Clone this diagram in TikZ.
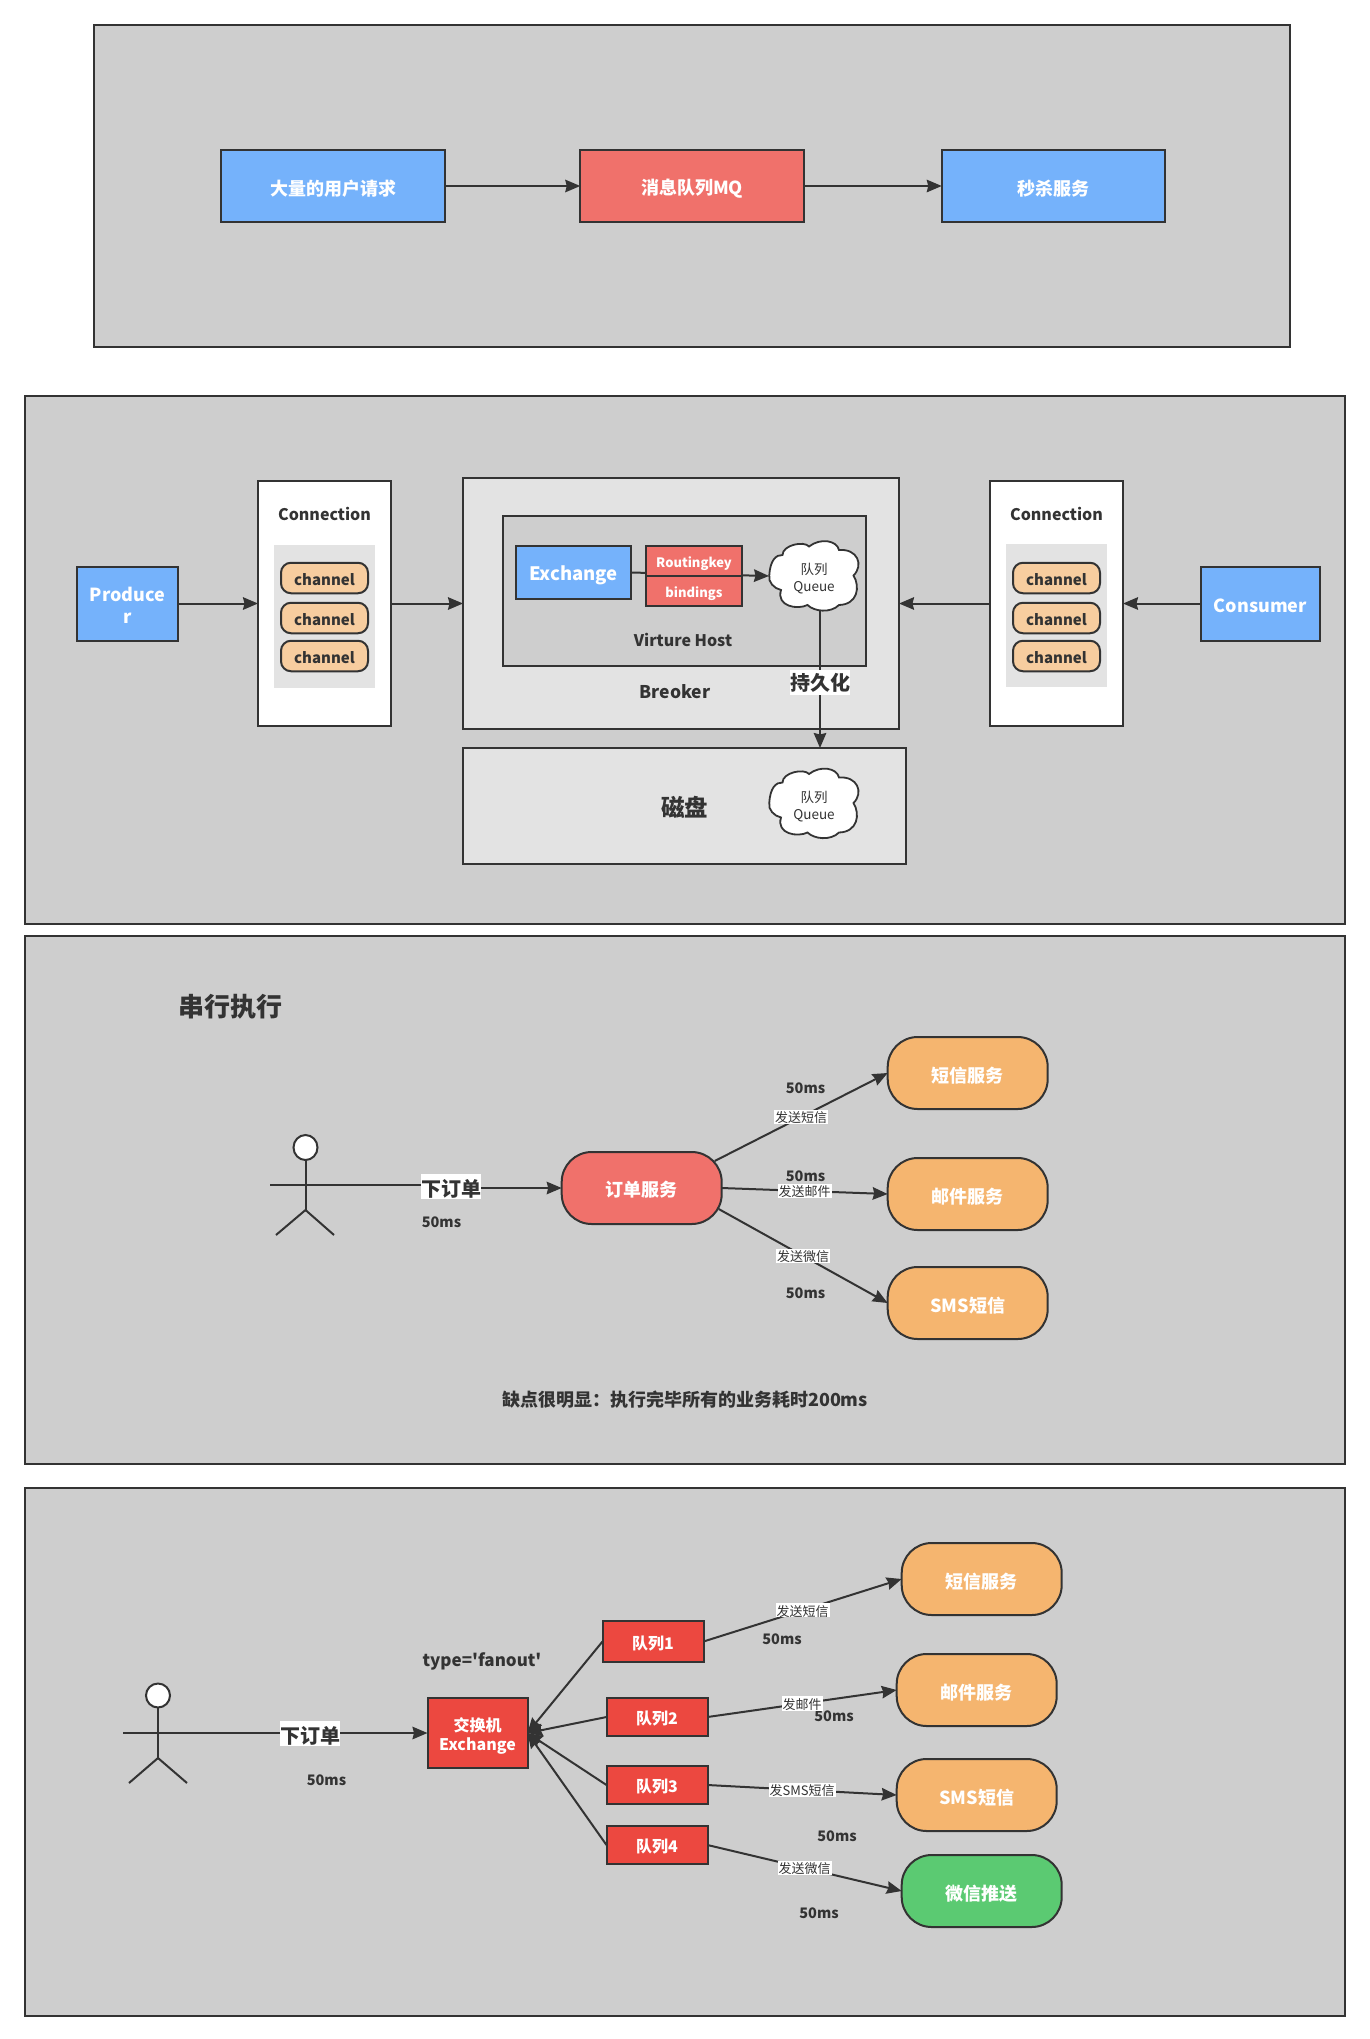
\documentclass[tikz,border=0pt]{standalone}
\usepackage{fontspec}
\setmainfont{Noto Sans CJK SC}
\newfontfamily\rawfont{Noto Sans CJK SC}
\usetikzlibrary{arrows.meta,calc,shapes.geometric}
\definecolor{ink}{HTML}{333333}
\definecolor{panelgray}{HTML}{CECECE}
\definecolor{palegray}{HTML}{E3E3E3}
\definecolor{skyblue}{HTML}{75B2FB}
\definecolor{softred}{HTML}{F0716B}
\definecolor{strongred}{HTML}{EC4840}
\definecolor{softorange}{HTML}{F5B56F}
\definecolor{paleorange}{HTML}{F7CD9F}
\definecolor{softgreen}{HTML}{5BCA72}
\newcommand{\fz}[1]{\fontsize{#1pt}{#1pt}\selectfont}
\newcommand{\dn}[2][2.5pt]{\raisebox{-#1}[\height][\depth]{#2}}
\newcommand{\cloudat}[1]{%
  \draw[cloudline,shift={(#1)}] (-44.7,0)
    .. controls (-44,-15) and (-38,-21) .. (-31.5,-20.5)
    .. controls (-31.5,-30.5) and (-10,-35) .. (-5,-29)
    .. controls (6.5,-38) and (23,-35) .. (25,-25.5)
    .. controls (43.5,-27) and (50,-10.5) .. (39.5,0)
    .. controls (46.5,11.5) and (43.5,29) .. (25,29.5)
    .. controls (16.5,38) and (0,36) .. (-6.5,29.5)
    .. controls (-16.5,34.5) and (-38,31) .. (-33,14.5)
    .. controls (-40,13) and (-46,6.5) .. (-44.7,0) -- cycle;}
\tikzset{
  base/.style={draw=ink,line width=2pt,inner sep=0pt,outer sep=0pt,align=center},
  panelbox/.style={base,fill=panelgray},
  palebox/.style={base,fill=palegray},
  whitebox/.style={base,fill=white},
  bluebox/.style={base,fill=skyblue,text=white,font=\fz{18}\bfseries},
  redbox/.style={base,fill=softred,text=white,font=\fz{18}\bfseries},
  queuebox/.style={base,fill=strongred,text=white,font=\fz{16}\bfseries,minimum width=101pt,minimum height=38pt},
  service/.style={base,fill=softorange,text=white,font=\fz{18}\bfseries,rounded corners=30pt,minimum width=160pt,minimum height=72pt},
  chan/.style={base,fill=paleorange,text=ink,font=\fz{15}\bfseries,rounded corners=10pt,minimum width=87pt,minimum height=30.5pt},
  grayblock/.style={fill=palegray,inner sep=0pt,outer sep=0pt,minimum width=101pt,minimum height=143pt},
  cloudline/.style={draw=ink,line width=1.8pt,fill=white},
  cloudtext/.style={inner sep=0pt,outer sep=0pt,minimum width=90pt,minimum height=69pt,align=center,text=ink,font=\fz{13.5}},
  plain/.style={text=ink,inner sep=0pt,font=\fz{16}\bfseries,align=center},
  timing/.style={text=ink,inner sep=0pt,font=\fz{14.5}\bfseries},
  conn/.style={draw=ink,line width=2pt,-{Stealth[length=15pt,width=12.5pt,inset=1.5pt]}},
  stick/.style={draw=ink,line width=2pt},
  edgelabel/.style={fill=white,text=ink,inner sep=1pt,font=\fz{13}},
  biglabel/.style={fill=white,text=ink,inner ysep=0pt,inner xsep=0pt,minimum height=25pt,font=\fz{20}\bfseries},
  headshape/.style={ellipse,draw=ink,line width=2pt,fill=white,inner sep=0pt,outer sep=0pt,minimum width=24pt,minimum height=25pt},
}
\begin{document}
\begin{tikzpicture}[x=1pt,y=-1pt]
\useasboundingbox (0,0) rectangle (1369,2039);
\fill[white] (0,0) rectangle (1369,2039);
% panels
\node[panelbox,minimum width=1196pt,minimum height=322pt] (p1) at (692,186) {};
\node[panelbox,minimum width=1320pt,minimum height=528pt] (p2) at (685,660) {};
\node[panelbox,minimum width=1320pt,minimum height=528pt] (p3) at (685,1200) {};
\node[panelbox,minimum width=1320pt,minimum height=528pt] (p4) at (685,1752) {};
% panel 1
\node[bluebox,minimum width=223.5pt,minimum height=72pt] (req) at (333,186) {\dn{大量的用户请求}};
\node[redbox,minimum width=223.5pt,minimum height=72pt] (mq) at (692,186) {\dn{消息队列MQ}};
\node[bluebox,minimum width=223.5pt,minimum height=72pt] (kill) at (1053.5,186) {\dn{秒杀服务}};
\draw[conn] (req) -- (mq);
\draw[conn] (mq) -- (kill);
% panel 2
\node[bluebox,minimum width=101pt,minimum height=74pt] (prod) at (127.5,604) {\dn[1pt]{Produce}\\[4pt]\dn[1pt]{r}};
\node[whitebox,minimum width=133pt,minimum height=245pt] (connL) at (324.5,603.5) {};
\node[plain] (connLt) at (324.5,514) {Connection};
\node[grayblock] (grayL) at (324.5,616.5) {};
\node[chan] (cl1) at (324.5,578) {\dn[2pt]{channel}};
\node[chan] (cl2) at (324.5,618) {\dn[2pt]{channel}};
\node[chan] (cl3) at (324.5,656) {\dn[2pt]{channel}};
\node[palebox,minimum width=436pt,minimum height=251pt] (broker) at (681,603.5) {};
\node[panelbox,minimum width=363pt,minimum height=150pt] (vh) at (684.5,591) {};
\node[bluebox,font=\fz{18.5}\bfseries,minimum width=115pt,minimum height=53pt] (exch) at (573.5,572.5) {\dn{Exchange}};
\cloudat{814,575.5}
\node[cloudtext] (cA) at (814,576) {\dn{队列}\\[3pt]\dn{Queue}};
\draw[conn] (exch.east) -- (cA.west);
\node[redbox,font=\fz{13}\bfseries,minimum width=96pt,minimum height=30pt] (rk) at (694,561) {\dn{Routingkey}};
\node[redbox,font=\fz{13}\bfseries,minimum width=96pt,minimum height=30pt] (bd) at (694,591) {\dn{bindings}};
\node[plain] (vht) at (683,640) {Virture Host};
\node[plain,font=\fz{17.5}\bfseries] (brt) at (675,692) {Breoker};
\node[palebox,minimum width=443pt,minimum height=116pt] (disk) at (684.5,806) {};
\node[plain,font=\fz{23.5}\bfseries] (diskt) at (684.5,807) {磁盘};
\cloudat{814,803}
\node[cloudtext] (cB) at (814,804) {\dn{队列}\\[3pt]\dn{Queue}};
\draw[conn] ($(cA.south)+(6,0)$) -- node[biglabel,pos=.52] (persist) {\dn[1pt]{持久化}} ($(disk.north west)+(357,0)$);
\node[whitebox,minimum width=133pt,minimum height=245pt] (connR) at (1056.5,603.5) {};
\node[plain] (connRt) at (1056.5,514) {Connection};
\node[grayblock] (grayR) at (1056.5,615.5) {};
\node[chan] (cr1) at (1056.5,578) {\dn[2pt]{channel}};
\node[chan] (cr2) at (1056.5,618) {\dn[2pt]{channel}};
\node[chan] (cr3) at (1056.5,656) {\dn[2pt]{channel}};
\node[bluebox,minimum width=119pt,minimum height=74pt] (cons) at (1260.5,604.3) {\dn[1.5pt]{Consumer}};
\coordinate (consStep) at (1161,604.3);
\draw[conn] (prod.east |- connL.west) -- (connL.west);
\draw[conn] (connL.east) -- (broker.west);
\draw[conn] (connR.west) -- (broker.east);
\draw[conn] (cons.west) -- (consStep) -- (consStep |- connR.east) -- (connR.east);
% panel 3
\node[plain,font=\fz{26}\bfseries] (title) at (230,1007) {串行执行};
\node[headshape] (headA) at (305.5,1147.5) {};
\coordinate (hipA) at (305.5,1210);
\coordinate (armLA) at (270,1185);
\coordinate (legLA) at (276,1235);
\coordinate (legRA) at (334,1235);
\draw[stick] (headA.south) -- (hipA);
\draw[stick] (legLA) -- (hipA) -- (legRA);
\node[redbox,rounded corners=30pt,minimum width=160pt,minimum height=72pt] (order) at (641.7,1188) {\dn[2pt]{订单服务}};
\node[service] (sA) at (967.7,1073) {\dn{短信服务}};
\node[service] (mA) at (967.7,1194) {\dn{邮件服务}};
\node[service] (tA) at (967.7,1303) {\dn{SMS短信}};
\coordinate (bendA) at (451,1186);
\draw[conn] (armLA) -- (armLA -| bendA) -- (bendA |- order.west) node[biglabel,pos=.5] (placeA) {\dn[2pt]{下订单}} -- (order.west);
\node[timing] (t0A) at (441.5,1222) {50ms};
\node[timing] (t1A) at (805.5,1088) {50ms};
\node[timing] (t2A) at (805.5,1176) {50ms};
\node[timing] (t3A) at (805.5,1293) {50ms};
\draw[conn] ($(order.north east)+(-7,9)$) -- node[edgelabel] (l1A) {\dn[1pt]{发送短信}} (sA.west);
\draw[conn] (order.east) -- node[edgelabel] (l2A) {\dn[1pt]{发送邮件}} (mA.west);
\draw[conn] ($(order.south east)+(-3,-15)$) -- node[edgelabel] (l3A) {\dn[1pt]{发送微信}} (tA.west);
\node[plain,font=\fz{18}\bfseries] (note) at (685,1400) {缺点很明显：执行完毕所有的业务耗时200ms};
% panel 4
\node[headshape,minimum width=24pt,minimum height=24pt] (headB) at (158,1695.5) {};
\coordinate (hipB) at (158,1758);
\coordinate (armLB) at (123,1733);
\coordinate (legLB) at (129,1783);
\coordinate (legRB) at (187,1783);
\draw[stick] (headB.south) -- (hipB);
\draw[stick] (legLB) -- (hipB) -- (legRB);
\node[base,fill=strongred,text=white,font=\fz{16}\bfseries,minimum width=100pt,minimum height=70pt] (ex) at (477.5,1733) {\dn[3pt]{交换机}\\[3pt]\dn[3pt]{Exchange}};
\node[plain,font=\rawfont\fz{17}\bfseries] (fan) at (482,1661) {type='fanout'};
\draw[conn] (armLB) -- node[biglabel,pos=.615] (placeB) {\dn[3pt]{下订单}} (ex.west);
\node[timing] (t0B) at (326.5,1780) {50ms};
\node[queuebox,minimum height=41pt] (q1) at (653,1641.5) {\dn[2pt]{队列1}};
\node[queuebox] (q2) at (657,1717) {\dn[2pt]{队列2}};
\node[queuebox] (q3) at (657,1785) {\dn[2pt]{队列3}};
\node[queuebox] (q4) at (657,1845) {\dn[2pt]{队列4}};
\node[service] (sB) at (981.7,1579) {\dn{短信服务}};
\node[service] (mB) at (976.7,1690) {\dn{邮件服务}};
\node[service] (tB) at (976.7,1795) {\dn{SMS短信}};
\node[service,fill=softgreen] (wB) at (981.7,1891) {\dn{微信推送}};
\draw[conn] (q1.west) -- (ex.east);
\draw[conn] (q2.west) -- (ex.east);
\draw[conn] (q3.west) -- (ex.east);
\draw[conn] (q4.west) -- (ex.east);
\node[timing] (t1B) at (782,1639) {50ms};
\node[timing] (t2B) at (834,1716) {50ms};
\node[timing] (t3B) at (837,1836) {50ms};
\node[timing] (t4B) at (819,1913) {50ms};
\draw[conn] (q1.east) -- node[edgelabel] (l1B) {\dn[1pt]{发送短信}} (sB.west);
\draw[conn] (q2.east) -- node[edgelabel] (l2B) {\dn[1pt]{发邮件}} (mB.west);
\draw[conn] (q3.east) -- node[edgelabel] (l3B) {\dn[1pt]{发SMS短信}} (tB.west);
\draw[conn] (q4.east) -- node[edgelabel] (l4B) {\dn[1pt]{发送微信}} (wB.west);
\end{tikzpicture}
\end{document}
